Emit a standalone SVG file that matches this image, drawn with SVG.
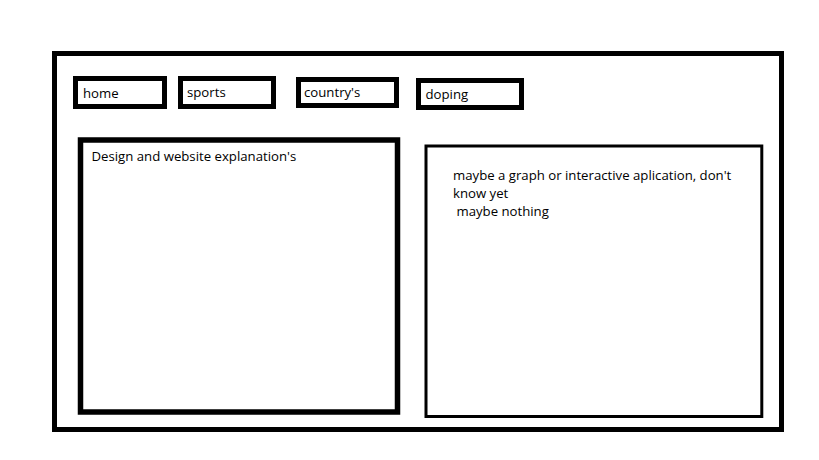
<svg xmlns="http://www.w3.org/2000/svg" width="819" height="460" viewBox="0 0 819 460">
<style>
.b{fill:#fff;stroke:#000}
.t{font-family:"Open Sans","Noto Sans",sans-serif;font-size:13.2px;fill:#000}
</style>
<rect width="819" height="460" fill="#fff"/>
<g id="page"><rect class="b" x="54.5" y="53.5" width="727" height="376" stroke-width="5"/></g>
<g id="nav-home"><rect class="b" x="75.5" y="78.5" width="89" height="28" stroke-width="5"/><text class="t" x="83" y="98">home</text></g>
<g id="nav-sports"><rect class="b" x="180.5" y="78.5" width="93" height="28" stroke-width="5"/><text class="t" x="187" y="97">sports</text></g>
<g id="nav-countries"><rect class="b" x="298.5" y="79.5" width="98" height="26" stroke-width="5"/><text class="t" x="304" y="97">country's</text></g>
<g id="nav-doping"><rect class="b" x="418.5" y="80.5" width="103" height="27" stroke-width="5"/><text class="t" x="425.5" y="99">doping</text></g>
<g id="left-panel"><rect class="b" x="80.5" y="140" width="317" height="272" stroke-width="5.5"/><text class="t" x="91.5" y="161">Design and website explanation's</text></g>
<g id="right-panel"><rect class="b" x="426" y="146" width="335.8" height="270.5" stroke-width="3"/>
<text class="t" x="453" y="180">maybe a graph or interactive aplication, don't</text>
<text class="t" x="453" y="198">know yet</text>
<text class="t" x="453" y="216" xml:space="preserve"> maybe nothing</text></g>
<g id="connectors"/>
</svg>
